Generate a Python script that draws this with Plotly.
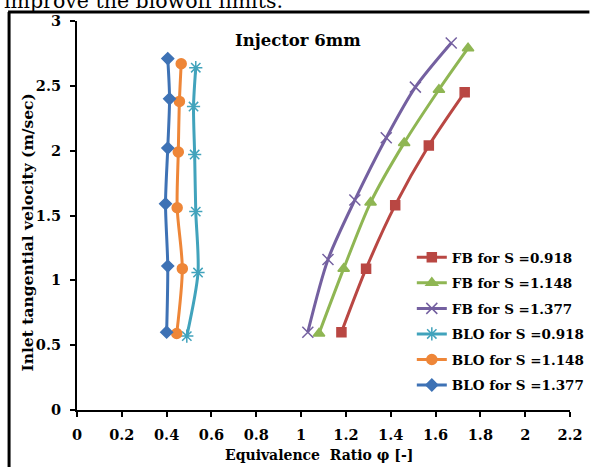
import plotly.graph_objects as go

# ---- data ----
fb_0918_x = [1.18, 1.29, 1.42, 1.57, 1.73]
fb_0918_y = [0.60, 1.09, 1.58, 2.04, 2.45]
fb_1148_x = [1.08, 1.19, 1.31, 1.46, 1.615, 1.745]
fb_1148_y = [0.59, 1.09, 1.60, 2.06, 2.47, 2.79]
fb_1377_x = [1.03, 1.12, 1.24, 1.38, 1.51, 1.67]
fb_1377_y = [0.60, 1.16, 1.62, 2.10, 2.49, 2.83]
blo_0918_x = [0.49, 0.54, 0.53, 0.525, 0.52, 0.53]
blo_0918_y = [0.57, 1.06, 1.53, 1.97, 2.34, 2.64]
blo_1148_x = [0.445, 0.47, 0.447, 0.452, 0.457, 0.465]
blo_1148_y = [0.59, 1.09, 1.56, 1.99, 2.38, 2.67]
blo_1377_x = [0.40, 0.405, 0.395, 0.405, 0.413, 0.405]
blo_1377_y = [0.60, 1.11, 1.59, 2.02, 2.40, 2.71]

x_ticks = [0, 0.2, 0.4, 0.6, 0.8, 1, 1.2, 1.4, 1.6, 1.8, 2, 2.2]
x_tick_text = ["0", "0.2", "0.4", "0.6", "0.8", "1", "1.2", "1.4", "1.6", "1.8", "2", "2.2"]
y_ticks = [0, 0.5, 1, 1.5, 2, 2.5, 3]
y_tick_text = ["0", "0.5", "1", "1.5", "2", "2.5", "3"]

names = ["FB for S =0.918", "FB for S =1.148", "FB for S =1.377",
         "BLO for S =0.918", "BLO for S =1.148", "BLO for S =1.377"]

FONT = "DejaVu Serif"

series = [
    (fb_0918_x, fb_0918_y, "#B94743", "square", 9),
    (fb_1148_x, fb_1148_y, "#8FB653", "triangle-up", 10),
    (fb_1377_x, fb_1377_y, "#7460A0", "x-thin", 11),
    (blo_0918_x, blo_0918_y, "#41A3BC", "asterisk", 11),
    (blo_1148_x, blo_1148_y, "#EE8638", "circle", 10),
    (blo_1377_x, blo_1377_y, "#3E72B5", "diamond", 9),
]

fig = go.Figure()
for i, ((xs, ys, col, sym, sz), nm) in enumerate(zip(series, names)):
    fig.add_trace(go.Scatter(
        x=xs, y=ys, name=nm, mode="lines+markers", legendgroup=f"g{i}",
        line=dict(color=col, width=3, shape="spline", smoothing=0.8),
        marker=dict(symbol=sym, size=sz, color=col,
                    line=dict(color=col, width=1.5)),
    ))

W, H = 602, 467
L, R, T, B = 77, 585, 21, 410

def px(xp):
    return (xp - L) / (R - L)

def py(yp):
    return (B - yp) / (B - T)

tickfont = dict(family=FONT, size=14.5, color="black", weight="bold")

fig.update_layout(
    width=W, height=H,
    margin=dict(l=L, r=W - R, t=T, b=H - B, pad=0),
    paper_bgcolor="white", plot_bgcolor="white",
    font=dict(family=FONT, size=14, color="black"),
    showlegend=True,
    legend=dict(
        x=px(422), y=py(242), xanchor="left", yanchor="top",
        bgcolor="rgba(0,0,0,0)", traceorder="grouped", tracegroupgap=5,
        font=dict(family=FONT, size=13.5, color="black", weight="bold"),
        itemwidth=30,
    ),
    xaxis=dict(
        range=[0, 2.2], tickvals=x_ticks, ticktext=x_tick_text,
        showgrid=False, zeroline=False, showline=True,
        linecolor="black", linewidth=2,
        ticks="outside", ticklen=5, tickwidth=2, tickcolor="black",
        ticklabelstandoff=6, tickfont=tickfont,
    ),
    yaxis=dict(
        range=[0, 3], tickvals=y_ticks, ticktext=y_tick_text,
        showgrid=False, zeroline=False, showline=True,
        linecolor="black", linewidth=2,
        ticks="outside", ticklen=5, tickwidth=2, tickcolor="black",
        ticklabelstandoff=6, tickfont=tickfont,
    ),
)

# outer frame (left and top edges of the figure box)
fig.add_shape(type="line", xref="paper", yref="paper",
              x0=px(7), x1=px(7), y0=py(470), y1=py(12),
              line=dict(color="black", width=3))
fig.add_shape(type="line", xref="paper", yref="paper",
              x0=px(6), x1=px(605), y0=py(12), y1=py(12),
              line=dict(color="black", width=3))

annots = [
    dict(text="Injector 6mm", x=px(305), y=py(40), size=16.5, bold=True, angle=0),
    dict(text="Equivalence\u00a0 Ratio φ [-]", x=px(326), y=py(455), size=14, bold=True, angle=0),
    dict(text="Inlet tangential velocity (m/sec)", x=px(25), y=py(233), size=15.5, bold=True, angle=-90),
    dict(text="improve the blowoff limits.", x=px(146), y=py(1), size=20.5, bold=False, angle=0),
]
for a in annots:
    fig.add_annotation(
        text=a["text"], x=a["x"], y=a["y"], xref="paper", yref="paper",
        xanchor="center", yanchor="middle", showarrow=False, textangle=a["angle"],
        font=dict(family=FONT, size=a["size"], color="black",
                  weight="bold" if a["bold"] else "normal"),
    )

fig.write_html(
    "out.html",
    config={"displayModeBar": False},
    post_script="document.body.style.margin='0';document.body.style.overflow='hidden';",
)
